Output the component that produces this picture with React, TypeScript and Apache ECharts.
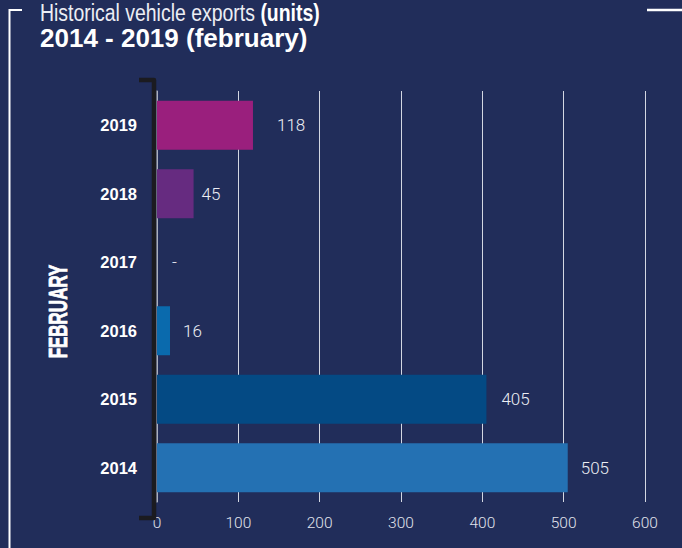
import React, { useEffect, useRef } from "react";
import * as echarts from "echarts";

const years = ["2014", "2015", "2016", "2017", "2018", "2019"];
const exportsUnits = [505, 405, 16, 0, 45, 118];
const barColors = ["#2471b3", "#044a84", "#0a6aad", "#0a6aad", "#662b80", "#9a1f7d"];
const xTicks = { min: 0, max: 600, interval: 100 };

const titleLight = "Historical vehicle exports ";
const titleBold = "(units)";
const subtitle = "2014 - 2019 (february)";
const sideLabel = "FEBRUARY";

// label gap (px) per bar, styling only
const labelGap = [13, 15, 13, 15, 8, 24];

export default function App() {
  const ref = useRef<HTMLDivElement>(null);
  useEffect(() => {
    if (!ref.current) return;
    const chart = echarts.init(ref.current, undefined, { renderer: "svg" });
    chart.setOption({
      animation: false,
      backgroundColor: "#212d5a",
      grid: { left: 157, right: 37, top: 91, bottom: 46, containLabel: false },
      xAxis: {
        type: "value",
        min: xTicks.min,
        max: xTicks.max,
        interval: xTicks.interval,
        axisLine: { show: false },
        axisTick: { show: false },
        splitLine: { show: true, lineStyle: { color: "#d3d7e2", width: 1 } },
        axisLabel: {
          color: "#e0e3ec",
          fontFamily: "Roboto",
          fontWeight: 300,
          fontSize: 15.5,
          margin: 13,
        },
      },
      yAxis: {
        type: "category",
        data: years,
        axisLine: { show: true, lineStyle: { color: "#9ea3b2", width: 1.5 } },
        axisTick: { show: false },
        splitLine: { show: false },
        axisLabel: {
          color: "#ffffff",
          fontFamily: "Liberation Sans",
          fontWeight: "bold",
          fontSize: 16.5,
          margin: 20,
        },
      },
      series: [
        {
          type: "bar",
          barWidth: 49,
          data: exportsUnits.map((v, i) => ({
            value: v,
            itemStyle: { color: barColors[i] },
            label: { distance: labelGap[i] },
          })),
          label: {
            show: true,
            position: "right",
            color: "#eceef4",
            fontFamily: "Roboto",
            fontWeight: 300,
            fontSize: 17,
            formatter: (p: any) => (p.value === 0 ? "-" : String(p.value)),
          },
        },
      ],
      graphic: [
        {
          type: "polyline",
          shape: { points: [[22, 10], [9.5, 10], [9.5, 548]] },
          style: { stroke: "#ffffff", lineWidth: 2, fill: null },
        },
        {
          type: "line",
          shape: { x1: 647, y1: 10, x2: 682, y2: 10 },
          style: { stroke: "#ffffff", lineWidth: 2.5 },
        },
        {
          type: "polyline",
          shape: { points: [[139, 80], [154, 80], [154, 518], [139, 518]] },
          style: { stroke: "#1b1b20", lineWidth: 4.5, fill: null, lineJoin: "round" },
          z: 10,
        },
        {
          type: "text",
          x: 40,
          y: 12.5,
          scaleX: 0.81,
          style: {
            text: `{l|${titleLight}}{b|${titleBold}}`,
            rich: {
              l: { fontFamily: "Liberation Sans", fontSize: 24, fill: "#eceef4", fontWeight: "normal" },
              b: { fontFamily: "Liberation Sans", fontSize: 24, fill: "#ffffff", fontWeight: "bold" },
            },
            verticalAlign: "middle",
            align: "left",
          },
        },
        {
          type: "text",
          x: 40,
          y: 37.5,
          style: {
            text: subtitle,
            fontFamily: "Liberation Sans",
            fontWeight: "bold",
            fontSize: 26,
            fill: "#ffffff",
            verticalAlign: "middle",
            align: "left",
          },
        },
        {
          type: "text",
          x: 59,
          y: 311.5,
          rotation: Math.PI / 2,
          scaleX: 0.68,
          style: {
            text: sideLabel,
            fontFamily: "Liberation Sans",
            fontWeight: "bold",
            fontSize: 25,
            fill: "#ffffff",
            stroke: "#ffffff",
            lineWidth: 0.8,
            verticalAlign: "middle",
            align: "center",
          },
        },
      ],
    });
    return () => chart.dispose();
  }, []);
  return (
    <div
      ref={ref}
      style={{ position: "absolute", left: 0, top: 0, width: 682, height: 548 }}
    />
  );
}
